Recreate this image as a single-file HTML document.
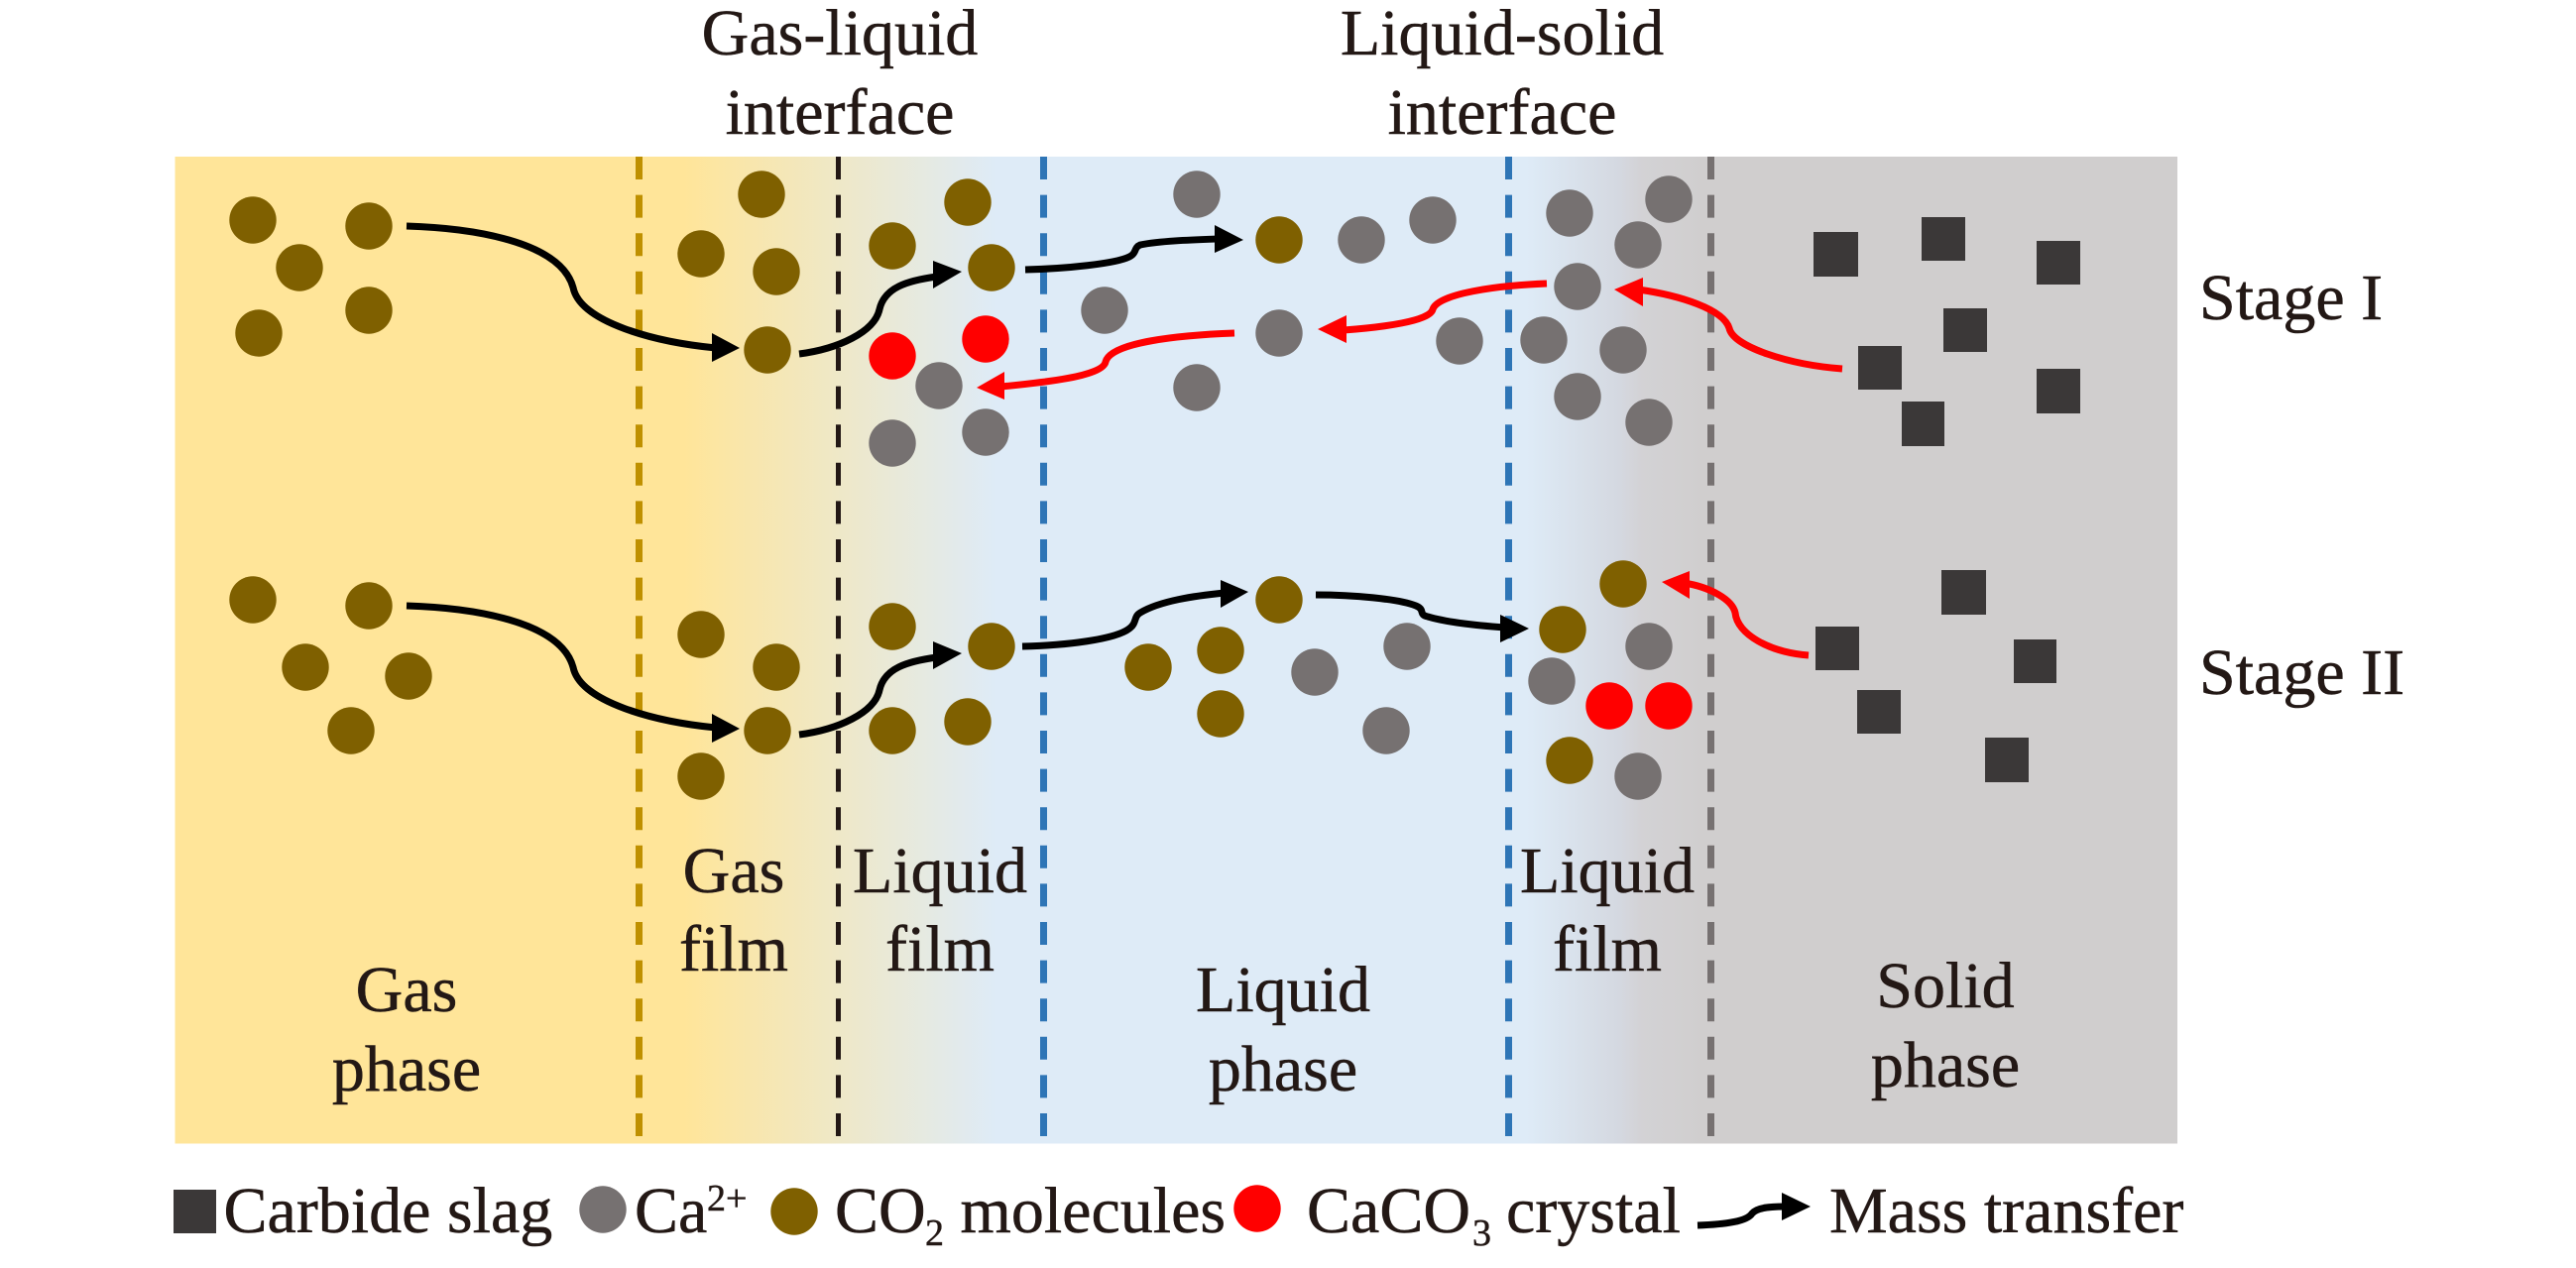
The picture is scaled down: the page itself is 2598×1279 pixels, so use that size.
<!DOCTYPE html>
<html><head><meta charset="utf-8"><style>
html,body{margin:0;padding:0;background:#fff}
svg{display:block}
text{font-family:"Liberation Serif",serif;font-size:66px;fill:#231815;stroke:#231815;stroke-width:.5}
.c{text-anchor:middle}
.s{font-size:38px}
.b{fill:#7f6000}.g{fill:#767171}.r{fill:#f00}.d{fill:#3b3838}
.ak{fill:none;stroke:#000;stroke-width:7}
.ar{fill:none;stroke:#f00;stroke-width:7}
</style></head><body>
<svg width="2598" height="1279" viewBox="0 0 2598 1279" xmlns="http://www.w3.org/2000/svg">
<defs><linearGradient id="bg" gradientUnits="userSpaceOnUse" x1="176" x2="2196" y1="0" y2="0">
<stop offset="0" stop-color="#ffe599"/>
<stop offset="0.2545" stop-color="#ffe599"/>
<stop offset="0.4104" stop-color="#deebf7"/>
<stop offset="0.6752" stop-color="#deebf7"/>
<stop offset="0.7218" stop-color="#d4d8e0"/>
<stop offset="0.7322" stop-color="#d3d2d5"/>
<stop offset="0.7644" stop-color="#d0cece"/>
<stop offset="1" stop-color="#d0cece"/>
</linearGradient></defs>
<rect x="176.5" y="158" width="2019.5" height="995.5" fill="url(#bg)"/>
<g fill="none" stroke-dasharray="23 15.6">
<line x1="644.5" y1="158" x2="644.5" y2="1149" stroke="#bf9000" stroke-width="7"/>
<line x1="845.5" y1="158" x2="845.5" y2="1149" stroke="#231815" stroke-width="5"/>
<line x1="1052.5" y1="158" x2="1052.5" y2="1149" stroke="#2e75b6" stroke-width="7"/>
<line x1="1521.5" y1="158" x2="1521.5" y2="1149" stroke="#2e75b6" stroke-width="7"/>
<line x1="1725.5" y1="158" x2="1725.5" y2="1149" stroke="#767171" stroke-width="7"/>
</g>
<g class="b">
<circle cx="255" cy="222" r="23.7"/><circle cx="372" cy="228" r="23.7"/><circle cx="302" cy="270" r="23.7"/><circle cx="372" cy="313" r="23.7"/><circle cx="261" cy="336" r="23.7"/>
<circle cx="768" cy="196" r="23.7"/><circle cx="707" cy="256" r="23.7"/><circle cx="783" cy="274" r="23.7"/><circle cx="774" cy="353" r="23.7"/>
<circle cx="976" cy="204" r="23.7"/><circle cx="900" cy="248" r="23.7"/><circle cx="1000" cy="270" r="23.7"/><circle cx="1290" cy="242" r="23.7"/>
<circle cx="255" cy="605" r="23.7"/><circle cx="372" cy="611" r="23.7"/><circle cx="308" cy="673" r="23.7"/><circle cx="412" cy="682" r="23.7"/><circle cx="354" cy="737" r="23.7"/>
<circle cx="707" cy="640" r="23.7"/><circle cx="783" cy="673" r="23.7"/><circle cx="774" cy="737" r="23.7"/><circle cx="707" cy="783" r="23.7"/>
<circle cx="900" cy="632" r="23.7"/><circle cx="1000" cy="652" r="23.7"/><circle cx="900" cy="737" r="23.7"/><circle cx="976" cy="728" r="23.7"/>
<circle cx="1158" cy="673" r="23.7"/><circle cx="1231" cy="656" r="23.7"/><circle cx="1231" cy="720" r="23.7"/><circle cx="1290" cy="605" r="23.7"/>
<circle cx="1576" cy="635" r="23.7"/><circle cx="1637" cy="589" r="23.7"/><circle cx="1583" cy="767" r="23.7"/>
<circle cx="801" cy="1222" r="23.7"/>
</g>
<g class="g">
<circle cx="1207" cy="196" r="23.7"/><circle cx="1114" cy="313" r="23.7"/><circle cx="1290" cy="336" r="23.7"/><circle cx="1207" cy="391" r="23.7"/>
<circle cx="947" cy="389" r="23.7"/><circle cx="994" cy="436" r="23.7"/><circle cx="900" cy="447" r="23.7"/>
<circle cx="1373" cy="242" r="23.7"/><circle cx="1445" cy="222" r="23.7"/><circle cx="1583" cy="215" r="23.7"/><circle cx="1683" cy="201" r="23.7"/><circle cx="1652" cy="247" r="23.7"/><circle cx="1591" cy="289" r="23.7"/><circle cx="1472" cy="344" r="23.7"/><circle cx="1557" cy="343" r="23.7"/><circle cx="1637" cy="353" r="23.7"/><circle cx="1591" cy="400" r="23.7"/><circle cx="1663" cy="426" r="23.7"/>
<circle cx="1419" cy="652" r="23.7"/><circle cx="1326" cy="678" r="23.7"/><circle cx="1398" cy="737" r="23.7"/><circle cx="1663" cy="652" r="23.7"/><circle cx="1565" cy="687" r="23.7"/><circle cx="1652" cy="783" r="23.7"/>
<circle cx="608" cy="1220" r="23.7"/>
</g>
<g class="r">
<circle cx="900" cy="359" r="23.7"/><circle cx="994" cy="342" r="23.7"/><circle cx="1623" cy="712" r="23.7"/><circle cx="1683" cy="712" r="23.7"/><circle cx="1268" cy="1219" r="23.7"/>
</g>
<g class="d">
<rect x="1829" y="234" width="45" height="45"/><rect x="1938" y="219" width="44" height="44"/><rect x="2054" y="243" width="44" height="44"/><rect x="1960" y="311" width="44" height="44"/><rect x="1874" y="349" width="44" height="44"/><rect x="2054" y="372" width="44" height="45"/><rect x="1918" y="405" width="43" height="45"/>
<rect x="1958" y="575" width="45" height="45"/><rect x="1831" y="632" width="44" height="44"/><rect x="2031" y="645" width="43" height="44"/><rect x="1873" y="696" width="44" height="44"/><rect x="2002" y="744" width="44" height="45"/>
<rect x="175" y="1200" width="43" height="44"/>
</g>
<g class="ak">
<path d="M410,228 C475,230 565,243 578,290 C585,325 660,345 722,351"/>
<path d="M806,357 C845,352 882,335 887,312 C892,290 915,283 945,279"/>
<path d="M1034,272 C1075,271 1125,266 1139,259 C1147,255 1143,250 1150,247 C1170,243 1200,242 1228,241"/>
<path d="M410,611 C475,613 565,626 578,673 C585,708 660,728 722,734"/>
<path d="M806,741 C845,736 882,719 887,696 C892,674 915,667 945,663"/>
<path d="M1031,652 C1075,651 1125,645 1139,634 C1147,628 1143,622 1150,618 C1170,606 1205,601 1235,598"/>
<path d="M1327,600 C1365,600 1410,604 1428,611 C1438,615 1430,620 1440,622 C1460,628 1490,631 1518,633"/>
<path d="M1712,1236 C1740,1235 1762,1232 1767,1224 C1772,1218 1785,1217 1800,1217"/>
</g>
<g class="ar">
<path d="M1245,336 C1190,338 1120,345 1115,365 C1112,380 1050,386 1010,390"/>
<path d="M1560,286 C1510,288 1450,296 1445,312 C1442,324 1395,330 1355,333"/>
<path d="M1858,372 C1805,368 1748,350 1744,331 C1738,312 1695,298 1652,292"/>
<path d="M1824,661 C1785,658 1752,640 1750,618 C1747,605 1725,592 1698,588"/>
</g>
<g fill="#000">
<polygon points="746,351 718,336 718,365"/>
<polygon points="970,274 941,263 941,291"/>
<polygon points="1254,242 1225,227 1225,255"/>
<polygon points="746,735 718,720 718,749"/>
<polygon points="970,659 941,647 941,675"/>
<polygon points="1259,597 1231,585 1231,613"/>
<polygon points="1542,634 1513,620 1513,648"/>
<polygon points="1826,1217 1797,1203 1797,1231"/>
</g>
<g fill="#f00">
<polygon points="985,391 1013,375 1013,403"/>
<polygon points="1329,332 1358,318 1358,346"/>
<polygon points="1628,292 1657,280 1657,309"/>
<polygon points="1676,587 1704,576 1704,604"/>
</g>
<text class="c" x="847" y="55">Gas-liquid</text>
<text class="c" x="847" y="135">interface</text>
<text class="c" x="1515" y="55">Liquid-solid</text>
<text class="c" x="1515" y="135">interface</text>
<text x="2218" y="322">Stage I</text>
<text x="2218" y="700">Stage II</text>
<text class="c" x="740" y="900">Gas</text>
<text class="c" x="740" y="979">film</text>
<text class="c" x="948" y="900">Liquid</text>
<text class="c" x="948" y="979">film</text>
<text class="c" x="1621" y="900">Liquid</text>
<text class="c" x="1621" y="979">film</text>
<text class="c" x="410" y="1020">Gas</text>
<text class="c" x="410" y="1100">phase</text>
<text class="c" x="1294" y="1020">Liquid</text>
<text class="c" x="1294" y="1100">phase</text>
<text class="c" x="1962" y="1016">Solid</text>
<text class="c" x="1962" y="1096">phase</text>
<text x="225.5" y="1243">Carbide slag</text>
<text x="640" y="1243">Ca</text>
<text class="s" x="713" y="1221">2+</text>
<text x="842" y="1243">CO</text>
<text class="s" x="933" y="1256">2</text>
<text x="968.5" y="1243">molecules</text>
<text x="1318" y="1243">CaCO</text>
<text class="s" x="1485" y="1256">3</text>
<text x="1519" y="1243">crystal</text>
<text x="1845" y="1243">Mass transfer</text>
</svg>
</body></html>
